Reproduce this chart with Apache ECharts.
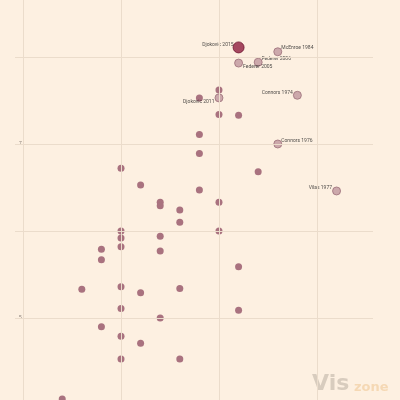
<!DOCTYPE html>
<html><head><meta charset="utf-8">
<script src="https://cdn.jsdelivr.net/npm/echarts@6/dist/echarts.min.js"></script>
<style>html,body{margin:0;padding:0;background:#fdf0e1}#c{width:400px;height:400px}</style>
</head><body><div id="c"></div>
<script>
// unlabeled seasons: titles (x) and y score
const titles = [2,3,4,4,4,5,5,5,5,5,5,5,5,6,6,6,7,7,7,7,7,8,8,8,8,9,9,9,9,10,10,10,10,11,11,11,12];
const scores = [4.07,5.33,5.79,5.67,4.90,6.72,6.00,5.92,5.82,5.36,5.11,4.79,4.53,6.53,5.29,4.71,6.33,6.29,5.94,5.77,5.00,6.24,6.10,5.34,4.53,7.53,7.11,6.89,6.47,7.62,7.34,6.33,6.00,7.33,5.59,5.09,6.68];
// labeled seasons
const labNames = ["McEnroe 1984","Federer 2006","Federer 2005","Connors 1974","Djokovic 2011","Connors 1976","Vilas 1977"];
const labTitles = [13,12,11,14,10,13,16];
const labScores = [8.06,7.94,7.93,7.56,7.53,7.00,6.46];
const labPos = ["right","right","right","left","left","right","left"];
const hiName = "Djokovic 2015";
const hiTitles = 11;
const hiScore = 8.11;
const yTicks = [5,7];
const yGrid = [5,6,7,8];
const xGrid = [0,5,10,15];

const gridCol = '#ebdccb';
const offs = {"McEnroe 1984":[-3,-4],"Federer 2006":[-3,-3],"Federer 2005":[-2,4],"Connors 1974":[2,-3],"Djokovic 2011":[2,4],"Connors 1976":[-3,-3],"Vilas 1977":[2,-3]};
const lineStyle = {color:gridCol,width:1,type:'solid'};

const chart = echarts.init(document.getElementById('c'));
chart.setOption({
  backgroundColor:'#fdf0e1',
  animation:false,
  grid:{left:15,right:27,top:0,bottom:0,containLabel:false},
  xAxis:{type:'value',min:-0.41,max:17.86,axisLine:{show:false},axisTick:{show:false},axisLabel:{show:false},splitLine:{show:false}},
  yAxis:{type:'value',min:4.0575,max:8.655,axisLine:{show:false},axisTick:{show:false},
    splitLine:{show:false},
    axisLabel:{inside:true,margin:4,fontSize:5,color:'#8a8078',customValues:yTicks,formatter:v=>String(v)}},
  series:[
    {type:'scatter',symbolSize:7,itemStyle:{color:'#a9727f',opacity:1},
     data:titles.map((t,i)=>[t,scores[i]]),
     markLine:{silent:true,symbol:'none',label:{show:false},lineStyle:lineStyle,
       data:xGrid.map(v=>({xAxis:v})).concat(yGrid.map(v=>({yAxis:v})))}},
    {type:'scatter',symbolSize:8,itemStyle:{color:'#bf969d',borderColor:'#9c6f79',borderWidth:1},
     data:labNames.map((n,i)=>({name:n,value:[labTitles[i],labScores[i]],
       label:{show:true,position:labPos[i],distance:2,offset:offs[n],formatter:n,fontSize:5,color:'#222',fontFamily:'Roboto'}}))},
    {type:'scatter',symbolSize:11,itemStyle:{color:'#8e1d3e',borderColor:'#6e1430',borderWidth:1},
     data:[{name:hiName,value:[hiTitles,hiScore],label:{show:true,position:'left',distance:2,offset:[3,-3],formatter:hiName,fontSize:5,color:'#222',fontFamily:'Roboto'}}]}
  ],
  graphic:[
    {type:'text',left:312,top:373,style:{text:'Vis',fontSize:22,fontWeight:'bold',fill:'#d8ccbe',fontFamily:'DejaVu Sans'}},
    {type:'text',left:354,top:381,style:{text:'zone',fontSize:13,fontWeight:'bold',fill:'#f5d8b4',fontFamily:'DejaVu Sans'}}
  ]
});
</script></body></html>
